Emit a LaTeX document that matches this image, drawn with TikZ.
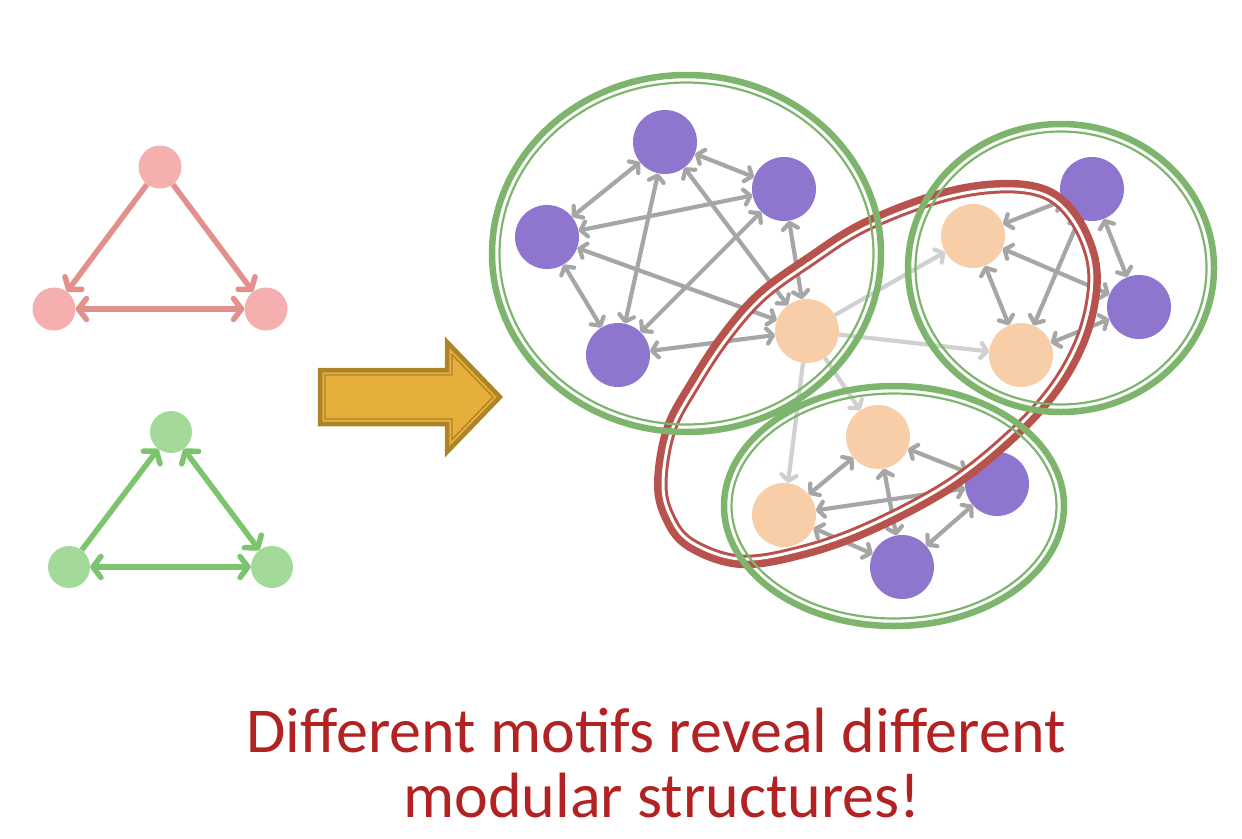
\documentclass[tikz,border=0pt]{standalone}
\usepackage{fontspec}
\setmainfont{Carlito}
\usetikzlibrary{arrows.meta}
\definecolor{purp}{HTML}{8E76CE}
\definecolor{peach}{HTML}{F8CEA8}
\definecolor{edgegray}{HTML}{A6A6A6}
\definecolor{lightedge}{HTML}{D0D0D0}
\definecolor{redline}{HTML}{B8524C}
\definecolor{greenline}{HTML}{7DB56C}
\definecolor{tred}{HTML}{F4AFAE}
\definecolor{tredE}{HTML}{E38F8C}
\definecolor{tgreen}{HTML}{A3DA9A}
\definecolor{tgreenE}{HTML}{7CC46D}
\definecolor{gold}{HTML}{E6AE3B}
\definecolor{goldE}{HTML}{AD8428}
\definecolor{txtred}{HTML}{B22222}
\def\redP{plot[smooth cycle, tension=0.6] coordinates {(663,482) (672,430) (696,385) (727,338) (763,297) (811,262) (865,228) (940,199) (1000,189) (1045,195) (1073,220) (1090,260) (1090,300) (1077,345) (1050,391) (1007,437) (946,485) (866,527) (800,550) (740,559) (691,542) (670,515)}}
\begin{document}
\begin{tikzpicture}[x=1pt,y=-1pt,
  pnode/.style={circle, fill=purp, minimum size=64pt, inner sep=0pt},
  onode/.style={circle, fill=peach, minimum size=64pt, inner sep=0pt},
  gedge/.style={draw=edgegray, line width=4.2pt, >={Straight Barb[length=6pt,width=15pt,round]}, <->},
  ledge/.style={draw=lightedge, line width=4.2pt, ->, >={Straight Barb[length=6pt,width=15pt,round]}},
  rtri/.style={circle, fill=tred, minimum size=43pt, inner sep=0pt},
  gtri/.style={circle, fill=tgreen, minimum size=42pt, inner sep=0pt},
  rtedge/.style={draw=tredE, line width=5.5pt, >={Straight Barb[length=8pt,width=21pt,round]}},
  gtedge/.style={draw=tgreenE, line width=5.5pt, >={Straight Barb[length=8pt,width=21pt,round]}},
  grthick/.style={draw=greenline, line width=6.5pt},
  grthin/.style={draw=greenline, line width=2.2pt},
  caption/.style={text=txtred, font=\fontsize{64}{66}\selectfont, anchor=base, inner sep=0pt}
]
\useasboundingbox (0,0) rectangle (1242,838);

% ---------- motif triangles ----------
\node[rtri] (rt) at (160,167) {};
\node[rtri] (rl) at (54,309) {};
\node[rtri] (rr) at (266,309) {};
\draw[rtedge,->] (rt) -- (rl);
\draw[rtedge,->] (rt) -- (rr);
\draw[rtedge,<->] (rl) -- (rr);

\node[gtri] (gt) at (171,432) {};
\node[gtri] (gl) at (69,567) {};
\node[gtri] (gr) at (272,567) {};
\draw[gtedge,->] (gl) -- (gt);
\draw[gtedge,<->] (gt) -- (gr);
\draw[gtedge,<->] (gl) -- (gr);

% ---------- big arrow ----------
\draw[fill=gold, draw=goldE, line width=4.5pt, line join=miter]
  (320,370) -- (447,370) -- (447,342) -- (500,397) -- (447,452) -- (447,424) -- (320,424) -- cycle;
\draw[draw=goldE, line width=1.3pt, line join=miter]
  (325,375) -- (452,375) -- (452,354.5) -- (493,397) -- (452,439.5) -- (452,419) -- (325,419) -- cycle;

% ---------- network nodes ----------
\node[pnode] (A) at (665,142) {};
\node[pnode] (B) at (784,189) {};
\node[pnode] (C) at (547,237) {};
\node[pnode] (D) at (618,355) {};
\node[onode] (E) at (807,331) {};

\node[onode] (F) at (973,236) {};
\node[pnode] (G) at (1092,189) {};
\node[pnode] (H) at (1139,307) {};
\node[onode] (I) at (1021,355) {};

\node[onode] (J) at (878,437) {};
\node[onode] (K) at (784,515) {};
\node[pnode] (L) at (997,484) {};
\node[pnode] (M) at (902,567) {};

% cluster 1 edges
\foreach \a/\b in {A/B,A/C,A/D,A/E,B/C,B/D,B/E,C/D,C/E,D/E}
  \draw[gedge] (\a) -- (\b);
% cluster 2 edges
\foreach \a/\b in {F/G,G/H,F/H,F/I,G/I,H/I}
  \draw[gedge] (\a) -- (\b);
% cluster 3 edges
\foreach \a/\b in {J/K,J/L,K/L,J/M,K/M,L/M}
  \draw[gedge] (\a) -- (\b);
% inter-cluster edges
\foreach \b in {F,I,J,K}
  \draw[ledge] (E) -- (\b);

% ---------- red motif module ----------
\begin{scope}[even odd rule]
  \clip (-10,-10) rectangle (1260,860) \redP;
  \draw[redline, line width=18pt] \redP;
\end{scope}
\begin{scope}
  \clip \redP;
  \draw[redline, line width=9pt] \redP;
\end{scope}
\draw[white, line width=3pt] \redP;

% ---------- green modules ----------
\draw[grthick] (686.5,253.5) ellipse [x radius=194.5, y radius=178.5];
\draw[grthin]  (686.5,253.5) ellipse [x radius=187, y radius=171];
\draw[grthick] (1061,268) ellipse [x radius=153, y radius=144];
\draw[grthin]  (1061,268) ellipse [x radius=145.5, y radius=136.5];
\draw[grthick] (894,506) ellipse [x radius=170, y radius=120];
\draw[grthin]  (894,506) ellipse [x radius=162.5, y radius=112.5];

% ---------- caption ----------
\node[caption] (t1) at (656,752) {Different motifs reveal different};
\node[caption] (t2) at (662,817) {modular structures!};
\end{tikzpicture}
\end{document}
